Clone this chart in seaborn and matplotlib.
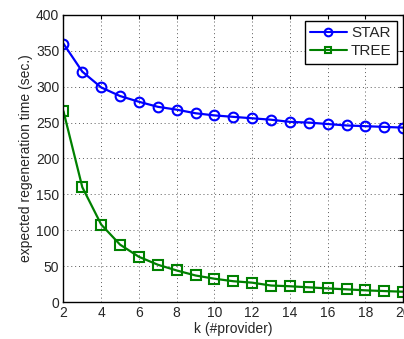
import matplotlib
matplotlib.use("Agg")
import matplotlib.pyplot as plt
from matplotlib.lines import Line2D
import seaborn as sns
import pandas as pd

k = list(range(2, 21))
star = [360, 321, 299, 287, 279, 272, 268, 263, 260, 258, 256, 254, 251, 250, 248, 246, 245, 244, 243]
tree = [266, 160, 108, 80, 63, 52, 44, 37, 32.5, 29, 27, 23, 22, 20.5, 19, 17.7, 16.3, 15.3, 14.4]

sns.set_theme(style="white")
plt.rcParams['font.family'] = ['Liberation Sans', 'DejaVu Sans']

df = pd.concat([
    pd.DataFrame({"k": k, "time": star, "series": "STAR"}),
    pd.DataFrame({"k": k, "time": tree, "series": "TREE"}),
])

fig = plt.figure(figsize=(4.04, 3.39), dpi=100)
ax = fig.add_axes([0.157, 0.109, 0.841, 0.847])

colors = {"STAR": "#0000ff", "TREE": "#008000"}
sns.lineplot(data=df, x="k", y="time", hue="series", style="series",
             markers={"STAR": "o", "TREE": "s"}, dashes=False,
             palette=colors,
             markerfacecolor="none", markeredgewidth=1.5, markersize=7,
             linewidth=1.6, ax=ax, legend=False)
for line in ax.lines:
    line.set_markerfacecolor("none")
    line.set_markeredgecolor(line.get_color())

ax.set_xlim(2, 20)
ax.set_ylim(0, 400)
ax.set_xticks(range(2, 21, 2))
ax.set_yticks(range(0, 401, 50))
ax.grid(True, linestyle=(0, (1, 3)), color="0.35", linewidth=0.7)
ax.tick_params(direction="in", labelsize=10, length=3, width=0.8, color="black",
               top=True, right=True, pad=3)
for s in ax.spines.values():
    s.set_color("black")
    s.set_linewidth(1)
ax.set_xlabel("k (#provider)", fontsize=10, labelpad=1)
ax.set_ylabel("expected regeneration time (sec.)", fontsize=10, labelpad=2)

handles = [Line2D([], [], color=colors["STAR"], marker="o", markersize=5.5,
                  markerfacecolor="none", markeredgewidth=1.5, linewidth=1.5),
           Line2D([], [], color=colors["TREE"], marker="s", markersize=5,
                  markerfacecolor="none", markeredgewidth=1.5, linewidth=1.5)]
leg = ax.legend(handles, ["STAR", "TREE"], loc="upper right", fontsize=11, frameon=True,
                fancybox=False, edgecolor="black", framealpha=1,
                borderaxespad=0.4, handlelength=2.4, handletextpad=0.3,
                borderpad=0.35, labelspacing=0.25)
leg.get_frame().set_linewidth(1)

fig.savefig("out.png", dpi=100)
